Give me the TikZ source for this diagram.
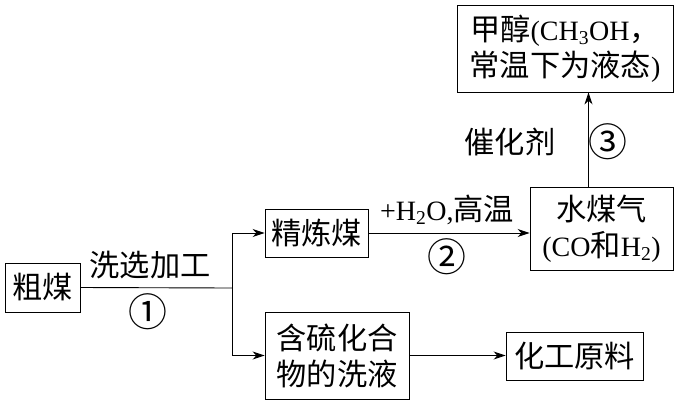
\documentclass[tikz,border=0pt]{standalone}
\usepackage{fontspec}
\setmainfont{Liberation Serif}
\newfontfamily\cjk[Scale=1.08]{Noto Sans CJK SC}
\usetikzlibrary{calc}
\usetikzlibrary{arrows.meta}
\tikzset{%
  myedge/.style={-{Stealth[length=12pt,width=8pt]}, line width=0.9pt},
  mybox/.style={draw=black, line width=0.9pt, align=center, inner sep=0pt},
  mylabel/.style={inner sep=0pt},
  mynum/.style={inner sep=0pt, font=\fontsize{36}{36}\selectfont}
}

\begin{document}
\begin{tikzpicture}[x=1pt, y=-1pt, font=\fontsize{28}{36}\selectfont]
  \useasboundingbox (0,0) rectangle (679,405);

  \node[mybox, minimum width=75pt, minimum height=49pt] (coal) at (42.5,287.5) {{\cjk 粗煤}};
  \node[mybox, minimum width=103pt, minimum height=48pt] (refined) at (316.5,233) {{\cjk 精炼煤}};
  \node[mybox, minimum width=144pt, minimum height=87pt] (wash) at (337,355.5) {{\cjk 含硫化合}\\{\cjk 物的洗液}};
  \node[mybox, minimum width=137pt, minimum height=48pt] (raw) at (574.5,356) {{\cjk 化工原料}};
  \node[mybox, minimum width=143pt, minimum height=83pt] (gas) at (601.5,228.5) {{\cjk 水煤气}\\(CO{\cjk 和}H\textsubscript{2})};
  \node[mybox, minimum width=216pt, minimum height=87pt] (methanol) at (565,48.5) {{\cjk 甲醇}(CH\textsubscript{3}OH{\cjk ，}\\{\cjk 常温下为液态})};
  \coordinate (split) at (232,288);

  \node[mylabel] (wlab) at (150,265) {{\cjk 洗选加工}};
  \node[mynum] (one) at (148,312) {{\cjk ①}};
  \node[mylabel] (hlab) at (447,210) {+H\textsubscript{2}O,{\cjk 高温}};
  \node[mynum] (two) at (447,257) {{\cjk ②}};
  \node[mylabel] (clab) at (510,142) {{\cjk 催化剂}};
  \node[mynum] (three) at (608,142) {{\cjk ③}};

  \draw[line width=0.9pt] (coal.east) -- (split);
  \draw[myedge] (split) |- (refined.west);
  \draw[myedge] (split) |- (wash.west);
  \draw[myedge] (refined.east) -- (refined.east -| gas.west);
  \draw[myedge] (wash.east) -- (wash.east -| raw.west);
  \draw[myedge] ([xshift=-13pt]gas.north) -- ([xshift=-13pt]gas.north |- methanol.south);

\end{tikzpicture}
\end{document}
